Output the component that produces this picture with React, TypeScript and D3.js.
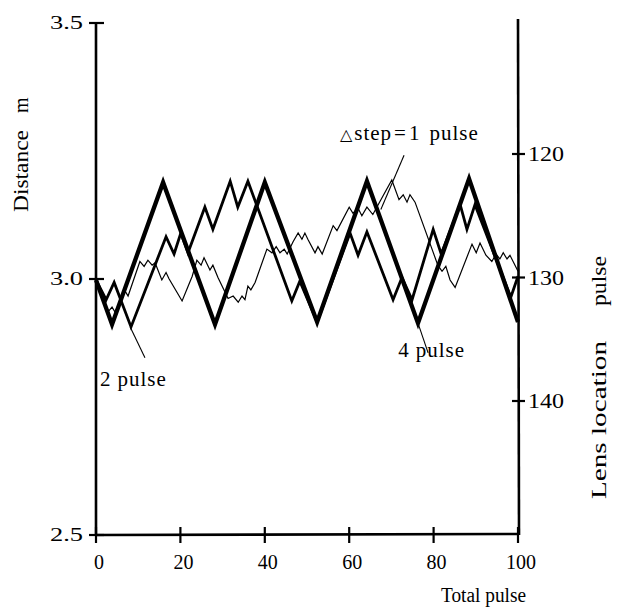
import React from 'react';
import * as d3 from 'd3';

const W = 626;
const H = 608;

// x: total pulse, y: lens location pulse
const step4T = [0, 3.8, 15.9, 28.2, 40.0, 52.4, 64.2, 76.3, 88.4, 100];
const step4L = [130.2, 133.8, 122.3, 133.8, 122.3, 133.6, 122.2, 133.7, 122.0, 133.6];

const step2T = [0, 2.4, 4.3, 8.3, 16.6, 18.5, 20.1, 21.8, 25.8, 27.7, 31.8, 33.6, 36.0, 46.4, 48.3, 52.4, 60.2, 62.1, 64.2, 70.4, 72.5, 74.9, 79.9, 81.8, 86.3, 87.9, 89.8, 98.3, 100];
const step2L = [130.2, 131.8, 130.4, 134.0, 126.7, 128.1, 126.4, 128.0, 124.3, 126.1, 122.2, 124.3, 122.2, 131.9, 130.3, 133.6, 126.4, 128.2, 126.3, 131.8, 130.0, 131.8, 126.1, 128.1, 124.1, 126.1, 124.1, 131.6, 129.9];

const step1T = [0, 2.8, 3.8, 4.5, 6.9, 7.6, 10.4, 11.4, 12.3, 13.3, 14.0, 15.6, 16.6, 17.3, 20.4, 22.8, 23.9, 24.9, 25.6, 27.0, 27.7, 28.9, 31.3, 32.5, 33.7, 34.6, 35.3, 36.0, 36.7, 37.7, 40.5, 41.7, 42.7, 43.6, 44.6, 45.3, 46.7, 47.9, 48.8, 49.5, 50.2, 51.9, 52.6, 53.6, 56.2, 57.1, 60.0, 60.9, 62.1, 63.0, 64.2, 65.6, 68.0, 70.1, 71.8, 72.8, 73.7, 74.4, 75.6, 81.0, 82.0, 82.9, 83.9, 85.1, 89.1, 90.1, 91.0, 92.4, 93.8, 94.8, 95.7, 96.5, 97.4, 98.1, 100];
const step1L = [130.2, 132.8, 132.4, 132.8, 131.1, 131.5, 128.7, 129.1, 128.6, 129.0, 128.8, 130.2, 129.6, 130.1, 131.9, 129.9, 128.6, 129.0, 128.4, 129.4, 129.0, 130.0, 131.7, 131.5, 132.0, 131.5, 131.8, 130.7, 131.0, 130.4, 127.7, 128.0, 127.5, 128.0, 127.7, 128.1, 127.1, 126.4, 126.9, 126.4, 126.9, 128.0, 127.5, 128.1, 125.8, 126.2, 124.3, 124.8, 124.4, 125.0, 124.3, 124.9, 123.4, 122.1, 123.7, 123.3, 123.9, 123.3, 123.9, 129.0, 129.5, 129.1, 130.2, 130.8, 127.3, 128.0, 127.2, 128.2, 128.7, 128.1, 128.5, 128.0, 128.5, 128.2, 129.5];

const xTicks = [0, 20, 40, 60, 80, 100];
const distTicks = [2.5, 3.0, 3.5];
const lensTicks = [120, 130, 140];

const FONT = '"Liberation Serif", "Times New Roman", serif';

export default function App() {
  const x = d3.scaleLinear().domain([0, 100]).range([96, 518]);
  const yLens = d3.scaleLinear().domain([120, 140]).range([154, 401]);
  const yDist = d3.scaleLinear().domain([2.5, 3.5]).range([535, 23]);

  const line = d3
    .line<[number, number]>()
    .x((d) => x(d[0]))
    .y((d) => yLens(d[1]));

  const series = [
    { t: step1T, L: step1L, w: 1.2 },
    { t: step2T, L: step2L, w: 2.8 },
    { t: step4T, L: step4L, w: 4.3 },
  ];

  const x0 = x(0);
  const x1 = x(100);
  const yB = yDist(2.5);

  return (
    <svg
      width={W}
      height={H}
      viewBox={`0 0 ${W} ${H}`}
      style={{ position: 'absolute', left: 0, top: 0, background: '#fff' }}
    >
      <rect x={0} y={0} width={W} height={H} fill="#fff" />

      {series.map((s, i) => (
        <path
          key={i}
          d={line(s.t.map((t, j) => [t, s.L[j]] as [number, number])) || ''}
          fill="none"
          stroke="#000"
          strokeWidth={s.w}
          strokeLinejoin="miter"
          strokeMiterlimit={6}
        />
      ))}

      {/* left axis */}
      <line x1={x0} y1={yDist(3.5)} x2={x0} y2={yB} stroke="#000" strokeWidth={2.6} />
      {distTicks.map((v) => (
        <g key={v}>
          <line x1={x0 - 7} x2={x0 + 8} y1={yDist(v)} y2={yDist(v)} stroke="#000" strokeWidth={2.2} />
          <text
            x={x0 - 46}
            y={yDist(v) + 6}
            fontFamily={FONT}
            fontSize={19}
            textLength={33}
            lengthAdjust="spacingAndGlyphs"
          >
            {v.toFixed(1)}
          </text>
        </g>
      ))}

      {/* right axis */}
      <line x1={x1} y1={19} x2={x1 + 1} y2={yB} stroke="#000" strokeWidth={2.6} />
      {lensTicks.map((v) => (
        <g key={v}>
          <line x1={x1 - 6} x2={x1 + 7} y1={yLens(v)} y2={yLens(v)} stroke="#000" strokeWidth={2.2} />
          <text
            x={x1 + 10}
            y={yLens(v) + 7}
            fontFamily={FONT}
            fontSize={20}
            textLength={36}
            lengthAdjust="spacingAndGlyphs"
          >
            {v}
          </text>
        </g>
      ))}

      {/* bottom axis */}
      <line x1={x0} y1={yB} x2={x1} y2={yB - 1} stroke="#000" strokeWidth={2.6} />
      {xTicks.map((v) => (
        <g key={v}>
          <line x1={x(v)} x2={x(v)} y1={yB - 8} y2={yB + 8} stroke="#000" strokeWidth={2.2} />
          <text x={x(v) + 3} y={yB + 34} fontFamily={FONT} fontSize={20} textAnchor="middle">
            {v}
          </text>
        </g>
      ))}

      {/* axis titles */}
      <text x={441} y={602} fontFamily={FONT} fontSize={20} textLength={85} lengthAdjust="spacingAndGlyphs">
        Total pulse
      </text>
      <g transform="translate(28,212) rotate(-90)">
        <text x={0} y={0} fontFamily={FONT} fontSize={20} textLength={82} lengthAdjust="spacingAndGlyphs">
          Distance
        </text>
        <text x={99} y={0} fontFamily={FONT} fontSize={20}>
          m
        </text>
      </g>
      <g transform="translate(606,499) rotate(-90)">
        <text x={0} y={0} fontFamily={FONT} fontSize={22} textLength={158} lengthAdjust="spacingAndGlyphs">
          Lens location
        </text>
        <text x={193} y={0} fontFamily={FONT} fontSize={22} textLength={50} lengthAdjust="spacingAndGlyphs">
          pulse
        </text>
      </g>

      {/* annotations */}
      <text x={x(57.8)} y={yLens(118.9)} fontFamily={FONT} fontSize={21} letterSpacing={1}>
        <tspan fontFamily='"DejaVu Sans", sans-serif' fontSize={16}>△</tspan>
        <tspan dx={1}>step</tspan>
        <tspan dx={2}>=</tspan>
        <tspan dx={2}>1</tspan>
        <tspan dx={9}>pulse</tspan>
      </text>
      <line x1={x(73)} y1={yLens(120.1)} x2={x(67.5)} y2={yLens(124.5)} stroke="#000" strokeWidth={1.1} />

      <text x={x(0.95)} y={yLens(138.8)} fontFamily={FONT} fontSize={21} letterSpacing={1}>
        2<tspan dx={6}>pulse</tspan>
      </text>
      <line x1={x(8.1)} y1={yLens(134)} x2={x(11.6)} y2={yLens(136.5)} stroke="#000" strokeWidth={1.1} />

      <text x={x(71.6)} y={yLens(136.4)} fontFamily={FONT} fontSize={21} letterSpacing={1}>
        4<tspan dx={6}>pulse</tspan>
      </text>
      <line x1={x(76.3)} y1={yLens(133.7)} x2={x(78.7)} y2={yLens(136.1)} stroke="#000" strokeWidth={1.1} />
    </svg>
  );
}
